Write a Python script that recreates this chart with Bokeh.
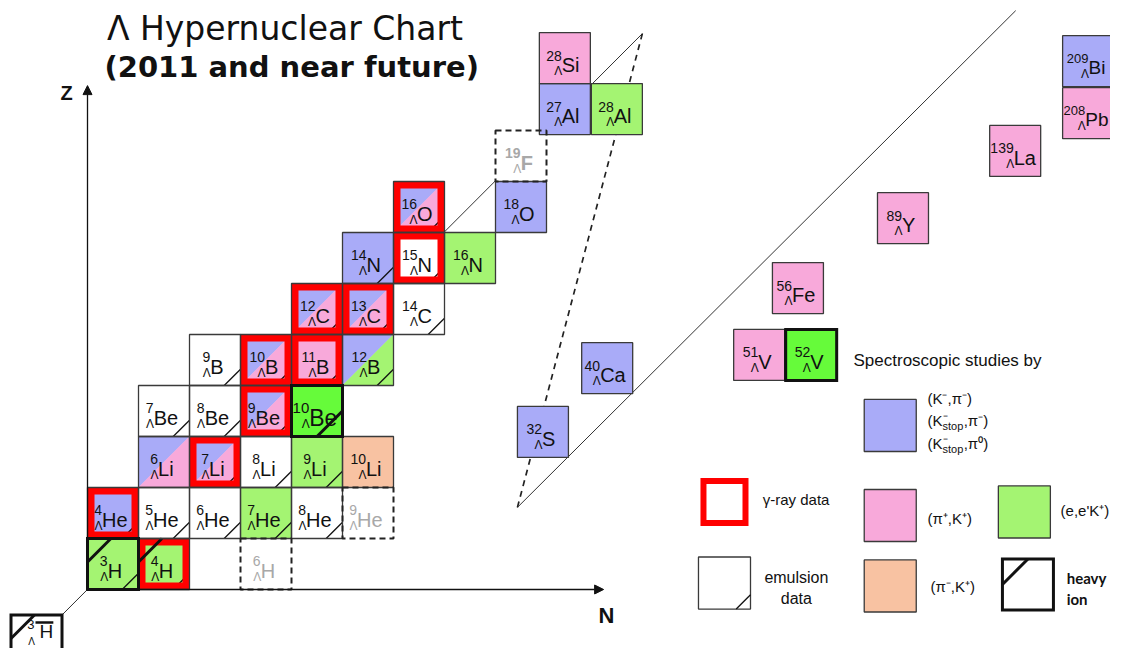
from bokeh.plotting import figure
from bokeh.models import ColumnDataSource, Range1d, Label, Arrow, NormalHead
from bokeh.embed import file_html
from bokeh.resources import INLINE
from bokeh.core.properties import value

# ======================= DATA =======================
# Light Lambda hypernuclei: mass number A, element, proton number Z
# (core neutron number N = A - 1 - Z gives the column of the chart)
light_A = [3, 4, 6, 4, 5, 6, 7, 8, 9, 6, 7, 8, 9, 10, 7, 8, 9, 10, 9, 10, 11, 12,
           12, 13, 14, 14, 15, 16, 16, 18, 19]
light_el = ["H", "H", "H", "He", "He", "He", "He", "He", "He", "Li", "Li", "Li", "Li", "Li",
            "Be", "Be", "Be", "Be", "B", "B", "B", "B", "C", "C", "C", "N", "N", "N",
            "O", "O", "F"]
light_Z = [1, 1, 1, 2, 2, 2, 2, 2, 2, 3, 3, 3, 3, 3, 4, 4, 4, 4, 5, 5, 5, 5,
           6, 6, 6, 7, 7, 7, 8, 8, 9]
# spectroscopic method: K=(K-,pi-), pi+=(pi+,K+), ee=(e,e'K+), pi-=(pi-,K+),
# "" = emulsion only, future = near-future candidate
light_method = ["ee", "ee", "future", "K", "", "", "ee", "", "future",
                "K+pi", "K+pi", "", "ee", "pi-",
                "", "", "K+pi", "ee-new",
                "", "K+pi", "pi+", "K+ee",
                "K+pi", "K+pi", "",
                "K", "", "ee",
                "K+pi", "K", "future"]
light_gamma = [0, 1, 0, 1, 0, 0, 0, 0, 0, 0, 1, 0, 0, 0, 0, 0, 1, 0, 0, 1, 1, 0,
               1, 1, 0, 0, 1, 0, 1, 0, 0]
light_emulsion = [1, 1, 0, 1, 1, 1, 1, 1, 0, 0, 1, 1, 1, 0, 1, 1, 1, 1, 1, 1, 1, 1,
                  1, 1, 1, 1, 1, 0, 1, 0, 0]
light_heavyion = [1, 1, 0, 0, 0, 0, 0, 0, 0, 0, 0, 0, 0, 0, 0, 0, 0, 0, 0, 0, 0, 0,
                  0, 0, 0, 0, 0, 0, 0, 0, 0]

# Heavier hypernuclei (shown beyond the break of the N axis)
heavy_A = [27, 28, 28, 32, 40, 51, 52, 56, 89, 139, 208, 209]
heavy_el = ["Al", "Al", "Si", "S", "Ca", "V", "V", "Fe", "Y", "La", "Pb", "Bi"]
heavy_method = ["K", "ee", "pi+", "K", "K", "pi+", "ee-new", "pi+", "pi+", "pi+", "pi+", "K"]

# ======================= LAYOUT / STYLE =======================
# chart placement (in cell units) of the heavy hypernuclei in the compressed region
heavy_chart_N = [9.86, 10.88, 9.86, 9.43, 10.69, 13.67, 14.69, 14.43, 16.49, 18.69, 20.12, 20.12]
heavy_chart_Z = [9.92, 9.92, 10.92, 3.59, 4.84, 5.10, 5.10, 6.41, 7.78, 9.10, 9.84, 10.86]

U = 51.0  # pixels per cell
COLOR = {"K": "#a9abf8", "pi+": "#f8a9da", "ee": "#a4f472", "ee-new": "#66fb3a",
         "pi-": "#f8c2a2", "": "white", "future": "white"}
SPLIT = {"K+pi": ("K", "pi+"), "K+ee": ("K", "ee")}
RED = "#ff0000"
EDGE = "#3a3a3a"
FONT = "Liberation Sans"
GLYPH_W = {"H": .722, "e": .556, "L": .556, "i": .222, "B": .667, "C": .722, "N": .722,
           "O": .778, "F": .611, "S": .667, "A": .667, "l": .222, "a": .556, "V": .667,
           "Y": .667, "P": .667, "b": .556}

cells = []
for A, el, Z, m, g, e, h in zip(light_A, light_el, light_Z, light_method, light_gamma,
                                light_emulsion, light_heavyion):
    cells.append(dict(x=A - 1 - Z, y=Z, A=A, el=el, m=m, g=g, e=e, h=h))
for A, el, m, x, y in zip(heavy_A, heavy_el, heavy_method, heavy_chart_N, heavy_chart_Z):
    cells.append(dict(x=x, y=y, A=A, el=el, m=m, g=0, e=0, h=0))

p = figure(width=1110, height=648, x_range=Range1d(-1.206, 20.559),
           y_range=Range1d(-0.657, 12.049), output_backend="svg",
           toolbar_location=None, min_border=0, x_axis_type=None, y_axis_type=None)
p.grid.visible = False
p.outline_line_color = None
p.background_fill_color = "white"

# ---- guide lines (beneath the cells) ----
p.line([0, 11.38], [0, 11.40], line_color="#333333", line_width=1)
p.line([8.93, 11.38], [2.11, 11.40], line_color="#222222", line_width=1.7, line_dash="6 5")
p.line([8.93, 18.70], [2.11, 11.85], line_color="#333333", line_width=1)

# ---- axes ----
p.add_layout(Arrow(end=NormalHead(size=9, fill_color="#111111", line_color="#111111"),
                   x_start=0.5, y_start=0.5, x_end=0.5, y_end=10.38,
                   line_color="#111111", line_width=1.3))
p.add_layout(Arrow(end=NormalHead(size=9, fill_color="#111111", line_color="#111111"),
                   x_start=0.5, y_start=0.5, x_end=10.62, y_end=0.5,
                   line_color="#111111", line_width=1.3))

# ---- cell fills ----
allx = [c["x"] for c in cells]
ally = [c["y"] for c in cells]
p.rect(allx, ally, width=1, height=1, fill_color="white", line_color=None)

solid = [c for c in cells if c["m"] in COLOR and c["m"] not in ("", "future")]
p.rect([c["x"] for c in solid], [c["y"] for c in solid], width=1, height=1,
       fill_color=[COLOR[c["m"]] for c in solid], line_color=None)

txs, tys, tcs = [], [], []
for c in cells:
    if c["m"] in SPLIT:
        a, b = SPLIT[c["m"]]
        x, y = c["x"], c["y"]
        txs.append([x - .5, x - .5, x + .5]); tys.append([y - .5, y + .5, y + .5]); tcs.append(COLOR[a])
        txs.append([x - .5, x + .5, x + .5]); tys.append([y - .5, y - .5, y + .5]); tcs.append(COLOR[b])
p.patches(txs, tys, fill_color=tcs, line_color=tcs, line_width=0.5)

# ---- emulsion marks ----
em = [c for c in cells if c["e"] and c["m"] != "ee-new"]
L = 0.32
p.segment([c["x"] + .5 - L for c in em], [c["y"] - .5 for c in em],
          [c["x"] + .5 for c in em], [c["y"] - .5 + L for c in em],
          line_color="#111111", line_width=1.3)
emb = [c for c in cells if c["e"] and c["m"] == "ee-new"]
p.segment([c["x"] for c in emb], [c["y"] - .5 for c in emb],
          [c["x"] + .5 for c in emb], [c["y"] for c in emb],
          line_color="#111111", line_width=3)

# ---- gamma-ray frames ----
gr = [c for c in cells if c["g"]]
p.rect([c["x"] for c in gr], [c["y"] for c in gr], width=1 - 7 / U, height=1 - 7 / U,
       fill_color=None, line_color=RED, line_width=7, line_join="miter")

# ---- heavy-ion marks ----
hi = [c for c in cells if c["h"]]
D = 0.46
p.segment([c["x"] - .5 for c in hi], [c["y"] + .5 - D for c in hi],
          [c["x"] - .5 + D for c in hi], [c["y"] + .5 for c in hi],
          line_color="#111111", line_width=3)

# ---- borders ----
thick = [c for c in cells if (c["h"] and not c["g"]) or c["m"] == "ee-new"]
thin = [c for c in cells if c["m"] != "future" and c not in thick]
fut = [c for c in cells if c["m"] == "future"]
p.rect([c["x"] for c in thin], [c["y"] for c in thin], width=1, height=1,
       fill_color=None, line_color=EDGE, line_width=1.3)
p.rect([c["x"] for c in thick], [c["y"] for c in thick], width=1, height=1,
       fill_color=None, line_color="#111111", line_width=3, line_join="miter")
p.rect([c["x"] for c in fut], [c["y"] for c in fut], width=1, height=1,
       fill_color=None, line_color="#222222", line_width=2, line_dash="6 4")

# ---- labels ----
mx, my, mt, sx, sy, st, lx, ly, col, sty, fsm, fss = [], [], [], [], [], [], [], [], [], [], [], []
for c in cells:
    big = c["m"] == "ee-new" and c["x"] < 9
    edge = c["x"] > 20
    fm, fs = (15, 23) if big else ((13, 19) if edge else (14, 20))
    wm = len(str(c["A"])) * 0.556 * fm / U
    ws = sum(GLYPH_W[ch] for ch in c["el"]) * fs / U
    xj = c["x"] - (wm + ws) / 2 + wm - 0.04
    mx.append(xj); my.append(c["y"] + 0.05); mt.append(str(c["A"]))
    sx.append(xj); sy.append(c["y"] - 0.13); st.append(c["el"])
    lx.append(xj + 0.01); ly.append(c["y"] - 0.25)
    col.append("#a8a8a8" if c["m"] == "future" else "#111111")
    sty.append("bold" if (c["m"] == "future" and c["el"] == "F") else "normal")
    fsm.append("%dpx" % fm); fss.append("%dpx" % fs)

src = ColumnDataSource(dict(mx=mx, my=my, mt=mt, sx=sx, sy=sy, st=st, lx=lx, ly=ly,
                            lam=["Λ"] * len(mx), col=col, sty=sty, fsm=fsm, fss=fss))
p.text("mx", "my", text="mt", text_align="right", text_baseline="alphabetic",
       text_font=value(FONT), text_font_size="fsm", text_color="col",
       text_font_style="sty", source=src)
p.text("lx", "ly", text="lam", text_align="right", text_baseline="alphabetic",
       text_font=value(FONT), text_font_size="12px", text_color="col", source=src)
p.text("sx", "sy", text="st", text_align="left", text_baseline="alphabetic",
       text_font=value(FONT), text_font_size="fss", text_color="col",
       text_font_style="sty", source=src)

# ---- anti-hypertriton (box partly below the bottom edge) ----
ax, ay = -0.5, -0.5
p.rect([ax], [ay], width=1, height=1, fill_color="white", line_color="#111111",
       line_width=3, line_join="miter")
p.segment([ax - .5], [ay + .5 - D], [ax - .5 + D], [ay + .5], line_color="#111111", line_width=3)
p.segment([ax - .02], [ay + .353], [ax + .33], [ay + .353], line_color="#111111", line_width=2.5)
p.add_layout(Label(x=ax - .04, y=ay + .216, text="3", text_align="right", text_font=FONT,
                   text_font_size="13px", text_color="#111111"))
p.add_layout(Label(x=ax - .03, y=ay - .118, text="Λ", text_align="right", text_font=FONT,
                   text_font_size="10px", text_color="#111111"))
p.add_layout(Label(x=ax + .06, y=ay - .02, text="H", text_align="left", text_font=FONT,
                   text_font_size="19px", text_color="#111111"))

# ---- titles and axis names ----
p.add_layout(Label(x=0.88, y=11.108, text="Λ Hypernuclear Chart", text_font="DejaVu Sans",
                   text_font_size="33px", text_color="#111111"))
p.add_layout(Label(x=0.833, y=10.42, text="(2011 and near future)", text_font="DejaVu Sans",
                   text_font_style="bold", text_font_size="29px", text_color="#111111"))
p.add_layout(Label(x=0.088, y=10.245, text="Z", text_align="center", text_baseline="middle",
                   text_font=FONT, text_font_style="bold", text_font_size="20px",
                   text_color="#111111"))
p.add_layout(Label(x=10.676, y=-0.01, text="N", text_align="center", text_baseline="middle",
                   text_font=FONT, text_font_style="bold", text_font_size="22px",
                   text_color="#111111"))

# ---- legend ----
leg = ColumnDataSource(dict(x=[16.24, 16.24, 16.24, 18.87], y=[3.716, 1.951, 0.569, 2.02],
                            c=[COLOR["K"], COLOR["pi+"], COLOR["pi-"], COLOR["ee"]]))
p.rect("x", "y", width=1.02, height=1.02, fill_color="c", line_color=EDGE, line_width=1.3,
       source=leg)
p.rect([12.99], [2.216], width=0.824, height=0.824, fill_color=None, line_color=RED,
       line_width=6, line_join="miter")
p.rect([12.99], [0.627], width=1.02, height=1.02, fill_color="white", line_color=EDGE,
       line_width=1.3)
p.segment([12.99 + .51 - .28], [0.627 - .51], [12.99 + .51], [0.627 - .51 + .28],
          line_color="#111111", line_width=1.3)
p.rect([18.94], [0.598], width=1.0, height=1.0, fill_color="white", line_color="#111111",
       line_width=3, line_join="miter")
p.segment([18.94 - .5], [0.598], [18.94], [0.598 + .5], line_color="#111111", line_width=3)


def txt(x, y, t, size, align="left", font=FONT, style="normal"):
    p.add_layout(Label(x=x, y=y, text=t, text_align=align, text_baseline="middle",
                       text_font=font, text_font_style=style, text_font_size=size,
                       text_color="#111111"))


txt(15.52, 4.99, "Spectroscopic studies by", "17px")
txt(16.97, 4.245, "(K⁻,π⁻)", "15px")
for yy, tail in ((3.814, ",π⁻)"), (3.363, ",π⁰)")):
    txt(16.97, yy, "(K", "15px")
    txt(17.265, yy + 0.02, "⁻", "15px")
    txt(17.265, yy - 0.1, "stop", "11px")
    txt(17.68, yy, tail, "15px")
txt(13.74, 2.265, "γ-ray data", "15px")
txt(16.97, 1.892, "(π⁺,K⁺)", "15px")
txt(19.58, 2.049, "(e,e'K⁺)", "15px")
txt(14.40, 0.735, "emulsion", "16px", align="center")
txt(14.40, 0.324, "data", "16px", align="center")
txt(17.03, 0.559, "(π⁻,K⁺)", "15px")
txt(19.70, 0.735, "heavy", "15px", font="Lato", style="bold")
txt(19.70, 0.304, "ion", "15px", font="Lato", style="bold")

open("out.html", "w").write(file_html(p, INLINE))
